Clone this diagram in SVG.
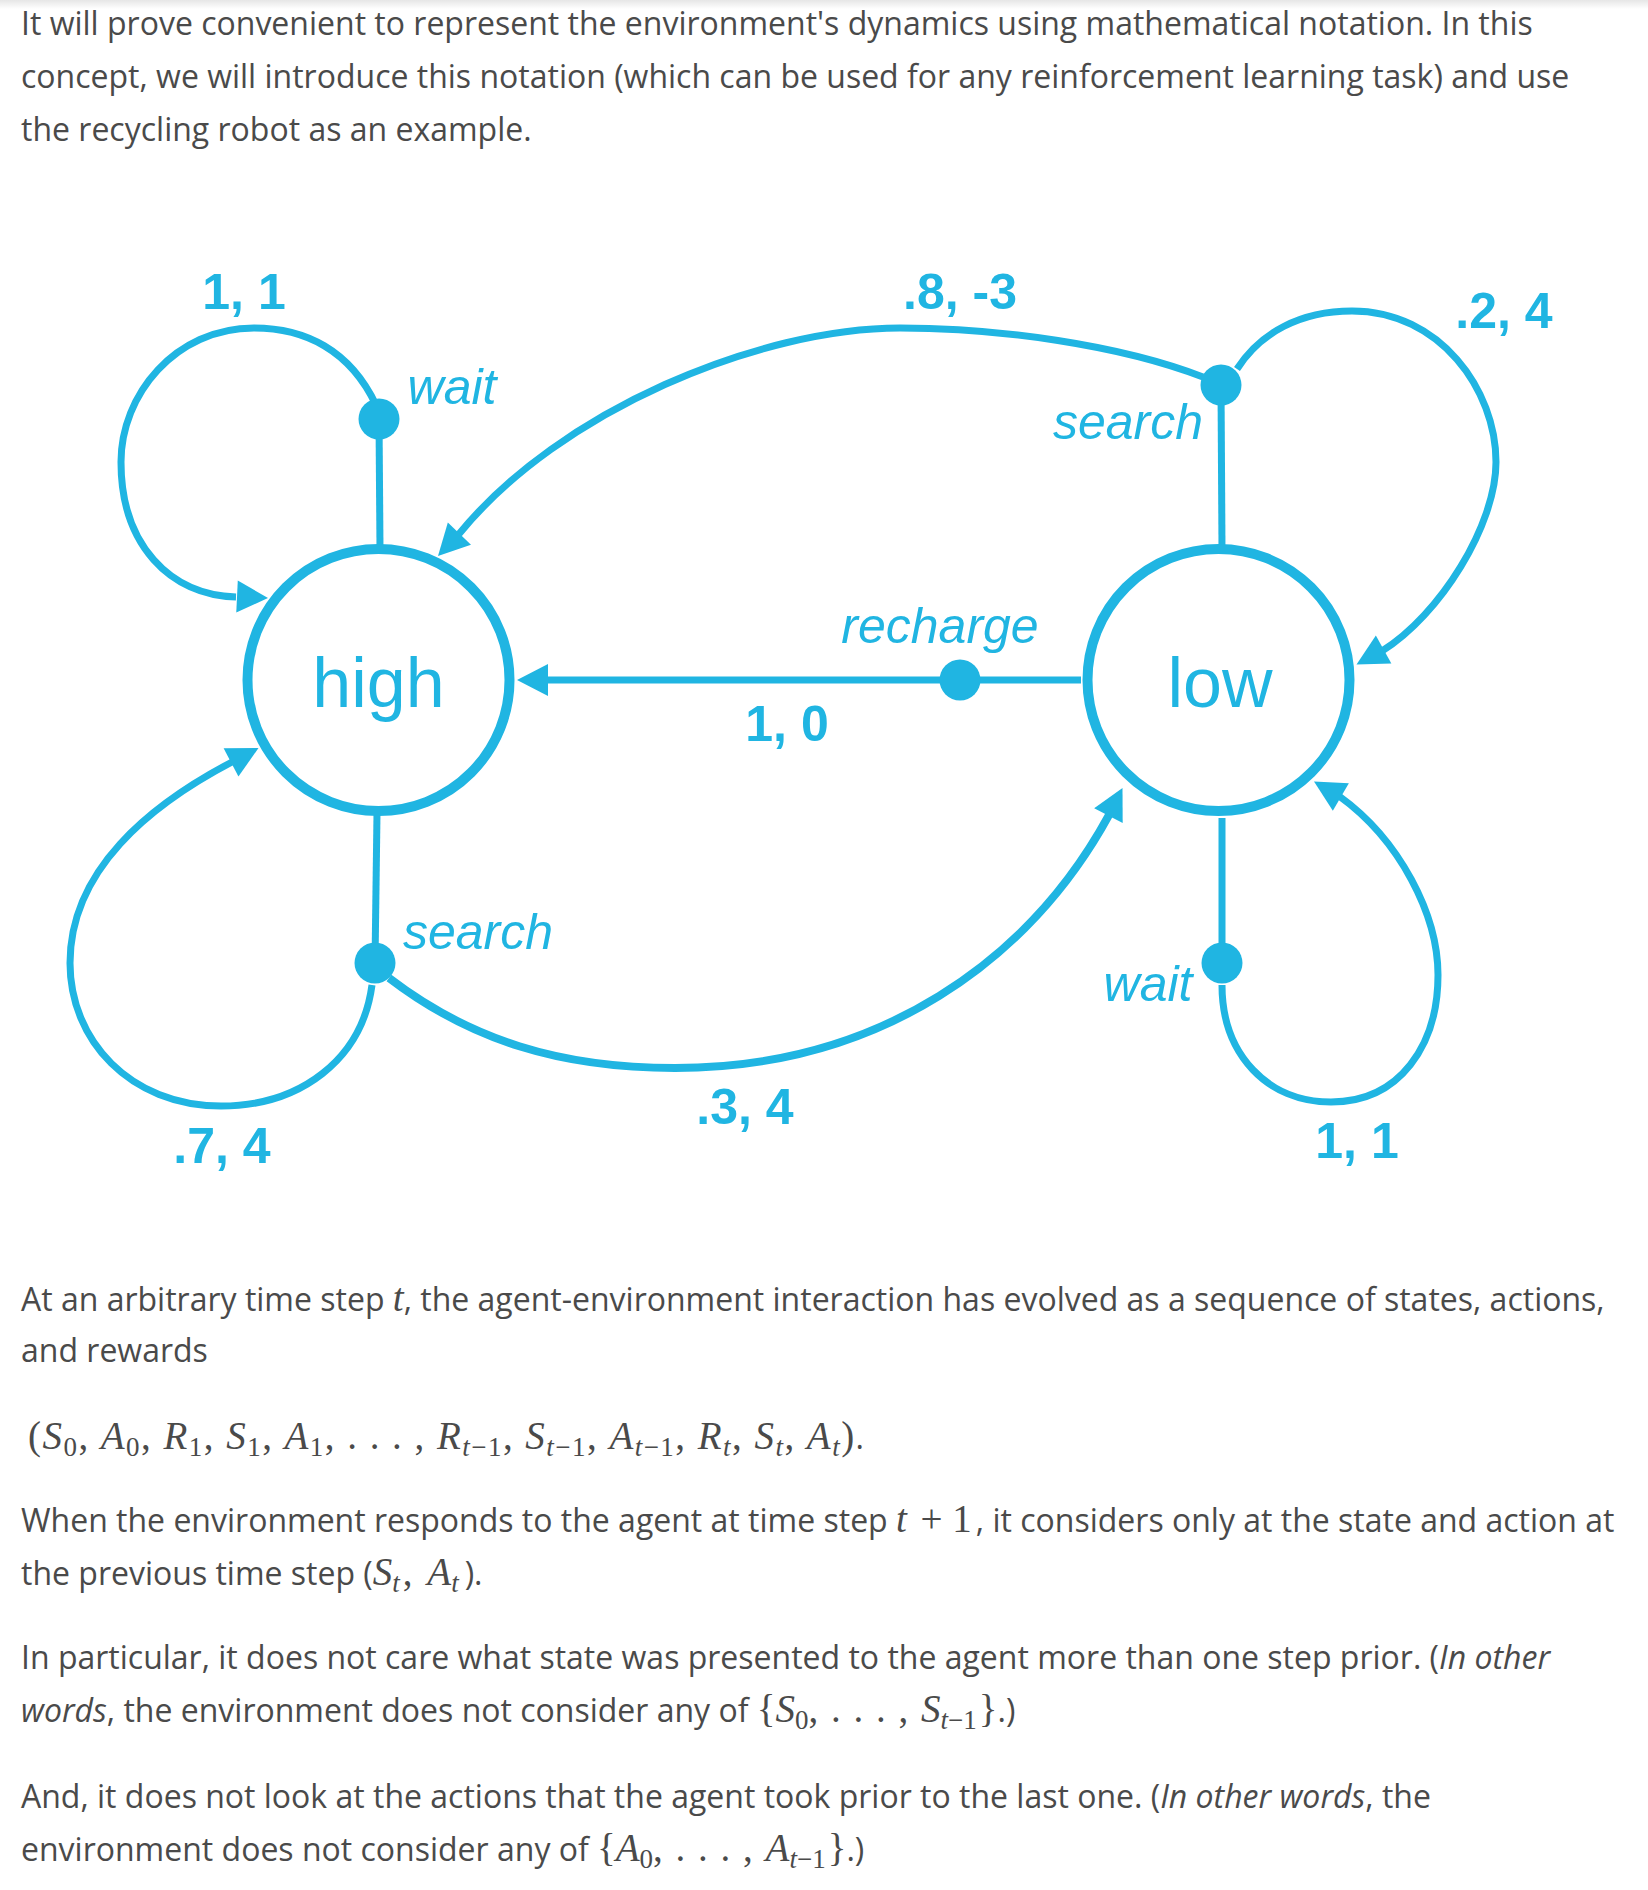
<svg xmlns="http://www.w3.org/2000/svg" width="1648" height="1890" viewBox="0 0 1648 1890">
<defs>
<style>
.st{fill:#fff;stroke:#20B5E2;stroke-width:10}
.ed{fill:none;stroke:#20B5E2;stroke-width:7}
.dot,.ah{fill:#20B5E2}
.num{font-family:"Liberation Sans",Arial,sans-serif;font-weight:bold;font-size:50px;fill:#20B5E2;text-anchor:middle}
.act{font-family:"Liberation Sans",Arial,sans-serif;font-style:italic;font-size:50px;fill:#20B5E2;text-anchor:middle}
.state{font-family:"Liberation Sans",Arial,sans-serif;font-size:70px;fill:#20B5E2;text-anchor:middle}
.body{font-family:"Open Sans","Liberation Sans",sans-serif;font-size:32px;fill:#4a4a4a}
.m{font-family:"Liberation Serif","Times New Roman",serif;font-style:italic;font-size:39px}
.mr{font-family:"Liberation Serif","Times New Roman",serif;font-style:normal;font-size:39px}
.sb{font-family:"Liberation Serif","Times New Roman",serif;font-style:normal;font-size:27px}
.it{font-style:italic}
.ls{letter-spacing:1.5px}
</style>
<linearGradient id="topshade" x1="0" y1="0" x2="0" y2="1">
<stop offset="0" stop-color="#e6e6e6"/>
<stop offset="1" stop-color="#ffffff"/>
</linearGradient>
<path id="ah" d="M0 0 L-31 -16 L-31 16 Z"/>
</defs>
<rect x="0" y="0" width="1648" height="1890" fill="#fff"/>
<rect x="0" y="0" width="1648" height="9" fill="url(#topshade)"/>

<g id="text-top" class="body">
<text x="21" y="35">It will prove convenient to represent the environment's dynamics using mathematical notation. In this</text>
<text x="21" y="88">concept, we will introduce this notation (which can be used for any reinforcement learning task) and use</text>
<text x="21" y="141">the recycling robot as an example.</text>
</g>

<g id="connectors">
<line class="ed" x1="380" y1="549" x2="379" y2="419"/>
<line class="ed" x1="1222" y1="549" x2="1221" y2="385"/>
<line class="ed" x1="377" y1="813" x2="375" y2="963"/>
<line class="ed" x1="1222" y1="818" x2="1222" y2="963"/>
<line class="ed" x1="1081" y1="680" x2="546" y2="680"/>
<path class="ed" d="M376 405 C350 350 305 328 254 328 C175 328 121 395 121 462 C121 545 170 595 236 597"/>
<path class="ed" d="M1203 377 C1120 345 1000 328 900 328 C760 328 560 410 459 534"/>
<path class="ed" d="M1237 369 C1260 333 1300 311 1352 311 C1440 311 1496 390 1496 462 C1496 525 1440 615 1382 651"/>
<path class="ed" d="M372 985 C362 1060 300 1106 221 1106 C130 1106 70 1040 70 963 C70 870 150 805 232 762"/>
<path class="ed" style="stroke-width:8" d="M389 978 C470 1040 560 1068 675 1068 C880 1068 1030 960 1109 815"/>
<path class="ed" d="M1222 985 C1222 1055 1268 1102 1331 1102 C1400 1102 1438 1045 1438 975 C1438 915 1400 840 1339 796"/>
<circle class="dot" cx="379" cy="419" r="20.5"/>
<circle class="dot" cx="1221" cy="385" r="20.5"/>
<circle class="dot" cx="960" cy="680" r="20.5"/>
<circle class="dot" cx="375" cy="963" r="20.5"/>
<circle class="dot" cx="1222" cy="963" r="20.5"/>
<use href="#ah" class="ah" transform="translate(268 598) rotate(2.7)"/>
<use href="#ah" class="ah" transform="translate(438 556) rotate(133.7)"/>
<use href="#ah" class="ah" transform="translate(517 680) rotate(180)"/>
<use href="#ah" class="ah" transform="translate(258.5 748) rotate(-27.6)"/>
<use href="#ah" class="ah" transform="translate(1122.5 788) rotate(-63)"/>
<use href="#ah" class="ah" transform="translate(1314 781.5) rotate(-150)"/>
<use href="#ah" class="ah" transform="translate(1356.5 664.5) rotate(151)"/>
<text class="num" x="244" y="309">1, 1</text>
<text class="num" x="960" y="309">.8, -3</text>
<text class="num" x="1504" y="328">.2, 4</text>
<text class="num" x="787" y="741">1, 0</text>
<text class="num" x="745" y="1124">.3, 4</text>
<text class="num" x="222" y="1163">.7, 4</text>
<text class="num" x="1357" y="1158">1, 1</text>
<text class="act" x="452" y="404">wait</text>
<text class="act" x="1128" y="439">search</text>
<text class="act" x="940" y="643">recharge</text>
<text class="act" x="478" y="949">search</text>
<text class="act" x="1148" y="1001">wait</text>
</g>

<g id="high">
<circle class="st" cx="378.5" cy="680" r="131"/>
<text class="state" x="378.5" y="707">high</text>
</g>
<g id="low">
<circle class="st" cx="1218.5" cy="680" r="131"/>
<text class="state" x="1220" y="707">low</text>
</g>

<g id="text-bottom" class="body">
<text x="21" y="1311">At an arbitrary time step <tspan class="m">t</tspan>, the agent-environment interaction has evolved as a sequence of states, actions,</text>
<text x="21" y="1362">and rewards</text>
<text x="28" y="1449" textLength="836" lengthAdjust="spacing"><tspan class="mr">(</tspan><tspan class="m">S</tspan><tspan class="sb" dy="7">0</tspan><tspan class="mr" dy="-7">, </tspan><tspan class="m">A</tspan><tspan class="sb" dy="7">0</tspan><tspan class="mr" dy="-7">, </tspan><tspan class="m">R</tspan><tspan class="sb" dy="7">1</tspan><tspan class="mr" dy="-7">, </tspan><tspan class="m">S</tspan><tspan class="sb" dy="7">1</tspan><tspan class="mr" dy="-7">, </tspan><tspan class="m">A</tspan><tspan class="sb" dy="7">1</tspan><tspan class="mr" dy="-7">, . . . , </tspan><tspan class="m">R</tspan><tspan class="sb it" dy="7">t</tspan><tspan class="sb">−1</tspan><tspan class="mr" dy="-7">, </tspan><tspan class="m">S</tspan><tspan class="sb it" dy="7">t</tspan><tspan class="sb">−1</tspan><tspan class="mr" dy="-7">, </tspan><tspan class="m">A</tspan><tspan class="sb it" dy="7">t</tspan><tspan class="sb">−1</tspan><tspan class="mr" dy="-7">, </tspan><tspan class="m">R</tspan><tspan class="sb it" dy="7">t</tspan><tspan class="mr" dy="-7">, </tspan><tspan class="m">S</tspan><tspan class="sb it" dy="7">t</tspan><tspan class="mr" dy="-7">, </tspan><tspan class="m">A</tspan><tspan class="sb it" dy="7">t</tspan><tspan class="mr" dy="-7">)</tspan>.</text>
<text x="21" y="1532">When the environment responds to the agent at time step <tspan class="m">t</tspan><tspan class="mr" dx="4"> + 1</tspan><tspan dx="4">, it considers only at the state and action at</tspan></text>
<text x="21" y="1585">the previous time step (<tspan class="m">S</tspan><tspan class="sb it" dy="7">t</tspan><tspan class="mr" dy="-7" dx="3">, </tspan><tspan class="m" dx="5">A</tspan><tspan class="sb it" dy="7">t</tspan><tspan dy="-7" dx="6">).</tspan></text>
<text x="21" y="1669">In particular, it does not care what state was presented to the agent more than one step prior. (<tspan class="it">In other</tspan></text>
<text x="21" y="1722"><tspan class="it">words</tspan>, the environment does not consider any of <tspan class="mr">{</tspan><tspan class="m">S</tspan><tspan class="sb" dy="7">0</tspan><tspan class="mr ls" dy="-7">, . . . , </tspan><tspan class="m">S</tspan><tspan class="sb it" dy="7">t</tspan><tspan class="sb">−1</tspan><tspan class="mr" dy="-7" dx="2">}</tspan>.)</text>
<text x="21" y="1808">And, it does not look at the actions that the agent took prior to the last one. (<tspan class="it">In other words</tspan>, the</text>
<text x="21" y="1861">environment does not consider any of <tspan class="mr">{</tspan><tspan class="m">A</tspan><tspan class="sb" dy="7">0</tspan><tspan class="mr ls" dy="-7">, . . . , </tspan><tspan class="m">A</tspan><tspan class="sb it" dy="7">t</tspan><tspan class="sb">−1</tspan><tspan class="mr" dy="-7" dx="2">}</tspan>.)</text>
</g>
</svg>
